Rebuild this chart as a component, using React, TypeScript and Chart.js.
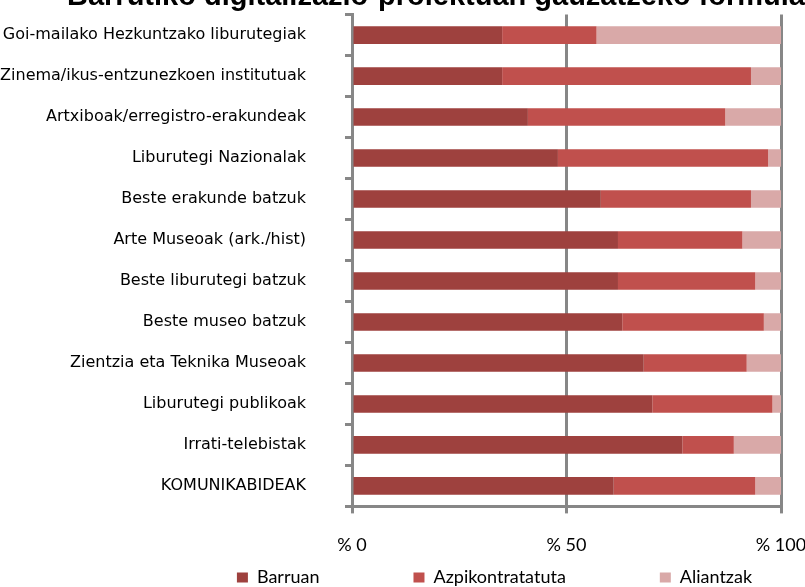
import { useEffect, useRef } from "react";
import { Chart, registerables } from "chart.js";

Chart.register(...registerables);

const categories = [
  "Goi-mailako Hezkuntzako liburutegiak",
  "Zinema/ikus-entzunezkoen institutuak",
  "Artxiboak/erregistro-erakundeak",
  "Liburutegi Nazionalak",
  "Beste erakunde batzuk",
  "Arte Museoak (ark./hist)",
  "Beste liburutegi batzuk",
  "Beste museo batzuk",
  "Zientzia eta Teknika Museoak",
  "Liburutegi publikoak",
  "Irrati-telebistak",
  "KOMUNIKABIDEAK",
];

const barruan = [35, 35, 41, 48, 58, 62, 62, 63, 68, 70, 77, 61];
const azpikontratatuta = [22, 58, 46, 49, 35, 29, 32, 33, 24, 28, 12, 33];
const aliantzak = [43, 7, 13, 3, 7, 9, 6, 4, 8, 2, 11, 6];

const seriesNames = ["Barruan", "Azpikontratatuta", "Aliantzak"];
const seriesColors = ["#9E413E", "#C0504D", "#D9A9A8"];
const xTickValues = [0, 50, 100];
const xTickPrefix = "% ";
const titleText = "Barrutiko digitalizazio-proiektuan gauzatzeko formula";

const GRID = "#878787";

const legendPlacement = {
  id: "legendPlacement",
  afterLayout(chart: any) {
    const lg = chart.legend;
    if (!lg) return;
    const h = lg.bottom - lg.top;
    lg.top = chart.chartArea.bottom - 32;
    lg.bottom = lg.top + h;
    lg.left += 92;
    lg.right += 92;
  },
};

export default function App() {
  const ref = useRef<HTMLCanvasElement | null>(null);

  useEffect(() => {
    if (!ref.current) return;
    const values = [barruan, azpikontratatuta, aliantzak];
    const chart = new Chart(ref.current, {
      type: "bar",
      data: {
        labels: categories,
        datasets: values.map((d, i) => ({
          label: seriesNames[i],
          data: d,
          backgroundColor: seriesColors[i],
          borderWidth: 0,
          barPercentage: 0.43,
          categoryPercentage: 1.0,
        })),
      },
      plugins: [legendPlacement],
      options: {
        animation: false,
        responsive: true,
        maintainAspectRatio: false,
        indexAxis: "y",
        layout: { padding: 0 },
        plugins: {
          title: {
            display: true,
            text: titleText,
            align: "end",
            color: "#000",
            padding: { top: 0, bottom: 0 },
            font: { family: "'Liberation Sans', Arial, sans-serif", size: 29, weight: "bold" },
          },
          legend: {
            position: "bottom",
            labels: {
              boxWidth: 11,
              boxHeight: 10,
              padding: 94,
              color: "#000",
              font: { family: "Lato, 'Open Sans', sans-serif", size: 18 },
            },
          },
          tooltip: { enabled: false },
        },
        scales: {
          x: {
            stacked: true,
            min: 0,
            max: 100,
            afterBuildTicks: (s: any) => {
              s.ticks = xTickValues.map((v) => ({ value: v }));
            },
            afterFit: (s: any) => {
              s.paddingRight = 24;
            },
            ticks: {
              padding: 21,
              color: "#000",
              font: { family: "Lato, 'Open Sans', sans-serif", size: 18 },
              callback: (v: any) => xTickPrefix + v,
            },
            grid: { color: GRID, lineWidth: 3, tickLength: 7 },
            border: { color: GRID, width: 3 },
          },
          y: {
            stacked: true,
            afterFit: (s: any) => {
              s.width = 352;
            },
            ticks: {
              padding: 39,
              autoSkip: false,
              color: "#000",
              font: { family: "'DejaVu Sans', sans-serif", size: 16 },
            },
            grid: {
              offset: true,
              drawOnChartArea: false,
              color: GRID,
              lineWidth: 3,
              tickLength: 7,
            },
            border: { color: GRID, width: 3 },
          },
        },
      },
    });
    return () => chart.destroy();
  }, []);

  return (
    <div
      style={{
        position: "fixed",
        left: 0,
        top: 0,
        width: 805,
        height: 587,
        overflow: "hidden",
        background: "#fff",
      }}
    >
      <div style={{ position: "absolute", left: 0, top: -34, width: 805, height: 733 }}>
        <canvas ref={ref} />
      </div>
    </div>
  );
}
